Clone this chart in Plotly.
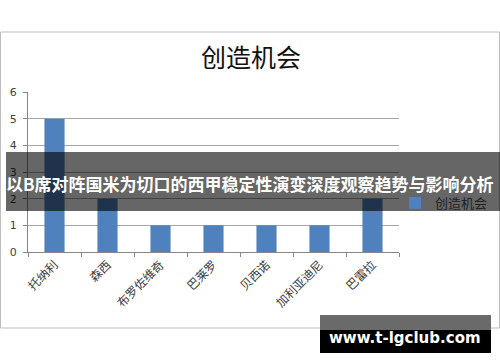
import plotly.graph_objects as go

players = ["托纳利", "森西", "布罗佐维奇", "巴莱罗", "贝西诺", "加利亚迪尼", "巴雷拉"]
chances = [5, 2, 1, 1, 1, 1, 2]
series_name = "创造机会"
chart_title = "创造机会"
banner_text = "以B席对阵国米为切口的西甲稳定性演变深度观察趋势与影响分析"
watermark = "www.t-lgclub.com"

W, H = 500, 362
L, R, T, B = 28, 101, 92, 110
PW, PH = W - L - R, H - T - B


def px(x):
    return (x - L) / PW


def py(y):
    return (H - B - y) / PH


fig = go.Figure()
fig.add_trace(go.Bar(
    x=players, y=chances, name=series_name,
    marker=dict(color="#4F81BD", line=dict(width=0)),
    width=0.38, showlegend=True,
))

shapes = [
    # chart frame
    dict(type="rect", xref="paper", yref="paper",
         x0=px(0.5), x1=px(499.5), y0=py(32), y1=py(328),
         line=dict(color="#bdbdbd", width=1), fillcolor="rgba(0,0,0,0)", layer="below"),
    # banner overlay
    dict(type="rect", xref="paper", yref="paper",
         x0=px(6), x1=px(500), y0=py(152), y1=py(211),
         line=dict(width=0), fillcolor="rgba(0,0,0,0.6)", layer="above"),
    # watermark box
    dict(type="rect", xref="paper", yref="paper",
         x0=px(320), x1=px(491), y0=py(315), y1=py(330),
         line=dict(width=0), fillcolor="#6a6a6a", layer="above"),
    dict(type="rect", xref="paper", yref="paper",
         x0=px(320), x1=px(491), y0=py(330), y1=py(353),
         line=dict(width=0), fillcolor="#000000", layer="above"),
]

annotations = [
    dict(text=banner_text, xref="paper", yref="paper", x=px(250), y=py(183),
         xanchor="center", yanchor="middle", showarrow=False,
         font=dict(family="Noto Sans CJK SC", size=17, color="#ffffff", weight="bold")),
    dict(text=watermark, xref="paper", yref="paper", x=px(405), y=py(338),
         xanchor="center", yanchor="middle", showarrow=False,
         font=dict(family="DejaVu Sans", size=15, color="#ffffff", weight="bold")),
]

fig.update_layout(
    width=W, height=H,
    margin=dict(l=L, r=R, t=T, b=B, autoexpand=False),
    paper_bgcolor="#ffffff", plot_bgcolor="#ffffff",
    title=dict(text=chart_title, x=px(251), xref="paper", xanchor="center",
               y=1 - 58 / H, yanchor="middle",
               font=dict(family="Noto Sans CJK SC", size=25, color="#111111")),
    legend=dict(x=px(395), y=py(203), xanchor="left", yanchor="middle",
                font=dict(family="Noto Sans CJK SC", size=13, color="#222222"),
                bgcolor="rgba(0,0,0,0)", itemwidth=30, tracegroupgap=0),
    shapes=shapes,
    annotations=annotations,
    xaxis=dict(showline=True, linecolor="#868686", linewidth=1,
               ticks="outside", ticklen=4, tickcolor="#868686", tickson="boundaries",
               tickangle=-45, showgrid=False,
               tickfont=dict(family="Noto Sans CJK SC", size=12, color="#404040")),
    yaxis=dict(range=[0, 6], dtick=1, showline=True, linecolor="#868686", linewidth=1,
               ticks="outside", ticklen=4, tickcolor="#868686", ticklabelstandoff=4,
               showgrid=True, gridcolor="#a6a6a6", gridwidth=1, zeroline=False,
               tickfont=dict(family="DejaVu Sans", size=11, color="#404040")),
)

fig.write_html("out.html")
